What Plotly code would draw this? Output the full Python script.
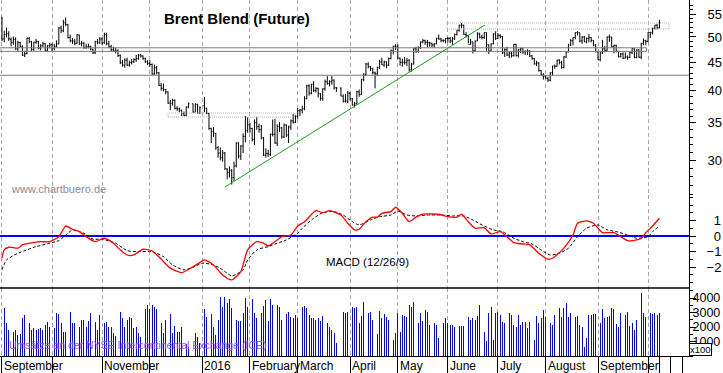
import pandas as pd
import plotly.graph_objects as go

# ---------------- DATA (Brent Blend front month, daily) ----------------
# one row per month: Sep15 .. Oct16
open_ = [
    54.0, 49.6, 50.5, 50.6, 49.5, 48.9, 49.5, 47.6, 48.9, 48.1, 46.4, 46.7, 49.7, 49.0, 47.5, 48.9, 49.1, 47.7, 48.2, 48.6, 47.3, 48.2,
    48.4, 47.7, 48.1, 48.6, 51.9, 51.3, 53.0, 52.6, 49.9, 49.2, 49.1, 48.7, 50.4, 48.6, 48.7, 47.8, 48.0, 48.1, 47.5, 46.8, 49.0, 48.8,
    49.6, 48.8, 50.5, 48.6, 48.0, 47.4, 47.2, 47.2, 46.3, 44.9, 44.5, 45.4, 44.5, 45.0, 45.1, 45.5, 45.7, 46.4, 46.2, 45.7, 45.1,
    44.8, 44.6, 42.9, 44.0, 43.1, 40.9, 40.4, 40.2, 39.8, 38.0, 38.0, 38.4, 37.2, 37.1, 36.9, 36.4, 36.1, 37.4, 37.9, 36.6, 37.8, 36.5,
    37.6, 37.2, 36.4, 34.2, 33.8, 33.5, 31.6, 30.9, 30.3, 30.9, 28.9, 28.5, 28.7, 27.9, 29.3, 32.2, 30.5, 31.8, 33.1, 33.9,
    34.7, 34.2, 32.7, 35.0, 34.5, 34.0, 32.9, 30.6, 30.8, 30.7, 33.4, 33.4, 32.2, 34.5, 34.3, 33.0, 34.7, 33.3, 34.4, 35.3, 35.1,
    36.0, 36.8, 36.9, 37.1, 38.7, 40.8, 39.6, 41.1, 40.0, 40.4, 39.5, 38.7, 40.3, 41.5, 41.2, 41.5, 41.8, 40.5, 40.4, 39.1, 38.3, 38.3,
    39.6, 38.7, 37.7, 37.9, 39.8, 39.4, 41.9, 42.8, 44.7, 44.2, 43.8, 43.1, 42.9, 44.0, 45.1, 44.5, 45.1, 44.5, 45.7, 47.2, 48.1,
    48.1, 45.8, 45.0, 45.0, 45.0, 45.4, 43.6, 44.7, 47.6, 47.1, 47.8, 49.0, 49.3, 48.9, 48.8, 48.7, 48.4, 48.6, 49.7, 49.6, 49.3, 49.3,
    49.7, 49.7, 49.2, 49.6, 50.6, 51.4, 52.5, 52.5, 50.5, 50.3, 48.5, 49.0, 47.2, 49.2, 50.6, 50.0, 49.9, 50.9, 48.4, 47.2, 48.6, 50.6,
    49.7, 50.3, 50.1, 46.8, 47.4, 46.4, 46.8, 46.3, 48.5, 46.3, 47.4, 47.6, 47.0, 47.1, 47.2, 46.2, 45.7, 44.7, 44.9, 43.5, 42.7,
    42.5, 42.1, 41.8, 43.1, 44.3, 44.3, 45.4, 45.0, 44.1, 46.0, 47.0, 48.4, 49.2, 49.9, 50.9, 50.9, 49.2, 50.0, 49.0, 49.7, 49.9, 49.3, 48.4,
    47.0, 45.5, 46.8, 47.6, 47.3, 50.0, 50.0, 48.0, 48.3, 47.1, 46.1, 46.6, 45.8, 46.0, 45.9, 46.8, 47.6, 45.9, 47.4, 46.0, 48.7, 49.2,
    49.1, 50.9, 50.9, 51.9, 52.5, 51.9,
]
high = [
    54.4, 51.3, 52.0, 51.2, 49.9, 50.1, 49.9, 49.2, 49.0, 48.3, 47.2, 49.8, 50.0, 49.2, 49.0, 49.6, 49.2, 48.5, 49.0, 48.7, 48.3, 48.8,
    48.7, 48.6, 49.3, 52.1, 52.4, 53.7, 54.2, 52.8, 50.5, 49.8, 49.6, 50.6, 50.5, 49.2, 49.0, 48.6, 48.6, 48.2, 47.6, 49.2, 49.6, 50.0,
    49.9, 50.9, 50.9, 49.2, 48.4, 48.0, 47.8, 47.5, 46.5, 45.5, 45.8, 45.9, 45.3, 45.6, 45.8, 46.4, 46.6, 46.6, 46.3, 45.9, 45.4,
    45.4, 44.8, 44.6, 44.3, 43.2, 41.3, 41.2, 40.3, 39.9, 38.5, 38.7, 38.6, 37.5, 37.3, 37.0, 36.7, 37.5, 38.1, 37.9, 38.0, 37.9, 37.5,
    38.99, 37.3, 36.5, 34.3, 34.4, 33.6, 31.8, 31.6, 31.3, 31.0, 29.0, 29.2, 28.9, 29.8, 32.3, 32.3, 31.9, 33.5, 36.0, 35.8,
    35.0, 34.3, 35.5, 35.9, 34.9, 34.7, 33.0, 31.5, 31.3, 33.5, 35.5, 35.6, 34.8, 35.1, 34.4, 34.9, 34.8, 34.6, 35.5, 36.3, 36.2,
    37.2, 37.1, 37.6, 39.1, 41.0, 41.1, 41.2, 41.6, 40.6, 40.5, 39.6, 40.4, 41.9, 42.5, 41.8, 42.5, 41.9, 40.6, 40.6, 39.4, 39.5, 40.0,
    39.8, 38.8, 38.2, 40.0, 40.2, 42.0, 43.0, 44.9, 45.0, 44.3, 44.0, 43.3, 44.2, 45.5, 45.9, 45.3, 45.2, 45.9, 47.5, 48.2, 48.5,
    48.5, 45.9, 45.7, 46.0, 45.8, 45.6, 44.9, 47.8, 48.0, 48.1, 49.1, 49.6, 49.4, 49.4, 49.0, 48.8, 48.7, 49.8, 50.5, 49.8, 49.5, 49.8,
    50.0, 50.0, 50.0, 50.7, 51.5, 52.6, 53.0, 52.6, 51.0, 50.4, 49.6, 49.0, 49.3, 51.0, 50.9, 50.5, 51.0, 51.0, 48.5, 48.7, 50.8, 51.2,
    50.8, 50.6, 50.2, 47.7, 48.0, 47.0, 47.1, 48.6, 48.6, 47.6, 47.8, 47.7, 47.3, 47.5, 47.3, 46.4, 45.8, 45.3, 45.0, 43.6, 43.0,
    42.7, 42.4, 43.2, 44.4, 44.6, 45.5, 45.6, 45.3, 46.2, 47.1, 48.6, 49.6, 49.9, 51.0, 51.2, 50.9, 50.2, 50.2, 49.9, 50.6, 50.0, 49.3, 48.5,
    47.1, 47.0, 49.4, 48.2, 50.1, 50.5, 50.0, 48.4, 48.4, 47.2, 46.8, 46.9, 46.9, 46.3, 47.0, 47.7, 47.7, 47.5, 47.5, 48.8, 49.7, 49.4,
    51.0, 51.1, 51.9, 52.6, 52.8, 53.7,
]
low = [
    49.1, 48.9, 49.9, 49.2, 48.1, 48.4, 47.4, 47.1, 47.8, 46.2, 46.0, 46.5, 48.7, 47.2, 47.2, 48.6, 47.5, 47.3, 48.0, 47.1, 47.0, 47.7,
    47.1, 47.3, 47.9, 48.5, 50.8, 51.0, 52.3, 49.7, 48.9, 48.6, 48.3, 48.6, 48.4, 48.1, 47.6, 47.6, 47.7, 47.3, 46.6, 46.6, 48.5, 48.6,
    48.4, 48.6, 48.3, 47.8, 47.0, 47.0, 46.7, 46.0, 44.7, 44.2, 44.0, 44.3, 44.2, 44.6, 44.9, 45.1, 45.5, 45.9, 45.5, 44.9, 44.5,
    44.2, 42.7, 42.7, 42.8, 40.8, 40.0, 39.9, 39.4, 37.9, 36.9, 37.6, 37.0, 36.8, 36.6, 36.0, 35.98, 36.0, 37.2, 36.5, 36.6, 36.4, 36.3,
    36.6, 36.3, 34.0, 32.2, 33.0, 31.3, 30.3, 29.96, 29.8, 28.8, 27.7, 27.9, 27.1, 27.5, 29.1, 30.2, 30.0, 30.9, 32.3, 33.6,
    33.6, 32.4, 31.9, 34.0, 33.6, 32.7, 30.5, 30.3, 30.4, 30.5, 33.1, 32.1, 31.8, 33.7, 32.8, 32.9, 33.0, 32.2, 34.0, 34.9, 35.0,
    35.6, 36.0, 36.4, 36.9, 38.6, 39.2, 39.4, 39.8, 39.7, 38.9, 38.4, 38.4, 40.0, 41.0, 40.7, 41.0, 40.2, 39.8, 39.1, 38.1, 38.1, 38.0,
    38.4, 37.6, 37.3, 37.8, 39.0, 39.3, 41.6, 42.5, 43.9, 43.4, 42.8, 40.4, 42.5, 43.8, 44.5, 44.2, 43.9, 44.3, 45.6, 46.5, 47.4,
    45.6, 44.4, 44.2, 44.6, 44.3, 43.3, 43.3, 44.6, 46.8, 46.8, 47.6, 48.7, 48.4, 47.9, 48.0, 47.9, 47.8, 48.5, 49.4, 48.9, 48.9, 48.7,
    48.9, 48.7, 48.4, 49.4, 50.3, 51.1, 51.8, 50.4, 49.9, 48.7, 48.4, 46.7, 47.0, 49.1, 49.7, 49.5, 49.6, 47.2, 46.6, 47.1, 48.5, 49.4,
    49.6, 49.7, 46.6, 46.0, 46.2, 45.8, 45.9, 46.1, 46.1, 45.9, 46.8, 46.6, 46.4, 46.4, 46.0, 45.5, 44.6, 44.3, 43.3, 42.6, 41.9,
    42.0, 41.5, 41.6, 42.6, 43.8, 44.2, 44.6, 43.8, 43.9, 45.9, 46.9, 48.2, 48.3, 49.5, 50.3, 48.9, 48.6, 48.9, 48.7, 48.9, 48.9, 48.1, 46.9,
    45.4, 45.2, 46.6, 46.9, 47.2, 49.0, 47.9, 46.7, 46.9, 45.9, 45.9, 45.6, 45.7, 45.5, 45.8, 46.6, 45.8, 45.8, 45.8, 45.6, 48.3, 48.3,
    48.9, 49.8, 50.5, 51.6, 51.6, 51.8,
]
close = [
    49.56, 50.50, 50.68, 49.61, 48.90, 49.52, 47.58, 48.89, 48.14, 46.37, 46.63, 49.75, 49.08, 47.47, 48.92, 49.08, 47.75, 48.17, 48.60, 47.34, 48.23, 48.37,
    47.69, 48.13, 48.54, 51.92, 51.33, 53.05, 52.65, 49.86, 49.24, 49.15, 48.71, 50.46, 48.61, 48.71, 47.85, 47.99, 48.08, 47.54, 46.81, 49.05, 48.80, 49.56,
    48.79, 50.54, 48.58, 47.98, 47.42, 47.19, 47.19, 46.30, 44.90, 44.50, 45.40, 44.50, 45.00, 45.10, 45.50, 45.70, 46.40, 46.20, 45.70, 45.10, 44.80,
    44.60, 42.90, 44.00, 43.10, 40.90, 40.40, 40.20, 39.80, 38.00, 37.92, 38.45, 37.19, 37.06, 36.88, 36.35, 36.11, 37.36, 37.89, 36.62, 37.79, 36.46, 37.28,
    37.22, 36.42, 34.23, 33.75, 33.55, 31.55, 30.86, 30.31, 30.88, 28.94, 28.55, 28.76, 27.88, 29.25, 32.18, 30.50, 31.80, 33.10, 33.89, 34.74,
    34.24, 32.72, 35.04, 34.46, 34.06, 32.88, 30.62, 30.84, 30.76, 33.36, 33.39, 32.18, 34.50, 34.28, 33.01, 34.69, 33.27, 34.41, 35.29, 35.10, 35.97,
    36.81, 36.93, 37.07, 38.72, 40.84, 39.65, 41.07, 40.05, 40.39, 39.53, 38.74, 40.33, 41.54, 41.20, 41.54, 41.79, 40.47, 40.44, 39.14, 38.28, 38.32, 39.60,
    38.67, 37.69, 37.87, 39.84, 39.43, 41.94, 42.83, 44.69, 44.18, 43.84, 43.10, 42.91, 44.03, 45.08, 44.53, 45.11, 44.48, 45.74, 47.18, 48.14, 48.13,
    45.83, 44.97, 45.01, 45.01, 45.37, 43.63, 44.66, 47.59, 47.08, 47.83, 48.97, 49.28, 48.93, 48.81, 48.72, 48.35, 48.61, 49.74, 49.59, 49.32, 49.28, 49.69,
    49.72, 49.17, 49.64, 50.55, 51.44, 52.51, 52.51, 50.54, 50.35, 48.49, 48.97, 47.19, 49.17, 50.65, 49.96, 49.88, 50.91, 48.41, 47.16, 48.58, 50.61, 49.68,
    50.35, 50.10, 46.80, 47.43, 46.40, 46.76, 46.25, 48.47, 46.26, 47.37, 47.61, 46.96, 47.08, 47.17, 46.20, 45.69, 44.72, 44.87, 43.47, 42.70, 42.46,
    42.14, 41.80, 43.10, 44.29, 44.27, 45.39, 44.98, 44.05, 46.04, 46.97, 48.35, 49.23, 49.85, 50.89, 50.88, 49.16, 49.96, 49.05, 49.67, 49.92, 49.26, 48.37, 47.04,
    45.45, 46.83, 47.63, 47.26, 49.98, 49.99, 48.01, 48.32, 47.10, 46.10, 46.59, 45.77, 46.05, 45.88, 46.83, 47.65, 45.89, 47.35, 45.97, 48.69, 49.24, 49.06,
    50.89, 50.87, 51.86, 52.51, 51.93, 53.14,
]
# volume in units of 100 contracts
volume = [
    3750, 3290, 2250, 1790, 2410, 1680, 1790, 1450, 1500, 2600, 2830, 2140, 2250, 1790, 1910, 1790, 1840, 1910, 1790, 2140, 2370, 2020,
    2020, 1900, 2940, 2900, 2250, 1680, 1680, 1200, 3060, 2250, 2250, 2600, 2020, 2480, 2480, 2020, 2440, 2990, 2140, 2370, 1790, 2830,
    3060, 2250, 2370, 2020, 2020, 1560, 1400, 2990, 3060, 2600, 2020, 2480, 2710, 2600, 1910, 2020, 1560, 1300, 3060, 3220, 3520,
    3220, 3520, 3400, 3220, 2710, 2250, 1560, 2500, 2300, 2900, 1560, 2070, 1680, 1680, 2020, 1200, 800, 600, 1560, 1560, 1330, 900,
    3220, 2710, 2940, 2900, 2020, 1450, 2500, 4090, 3400, 4050, 3630, 3910, 3290, 4090, 2480, 2440, 2440, 3000, 3980, 3400,
    3860, 3910, 2940, 2640, 3290, 2990, 3450, 3860, 2410, 3910, 3520, 2830, 3520, 3400, 2480, 2830, 2900, 3060, 2710, 2650, 2800,
    2640, 2940, 3400, 3470, 3290, 2830, 2600, 2600, 2480, 2640, 2410, 2760, 2140, 2250, 2020, 1800, 1560, 920, 2990, 3060, 2940, 3060,
    2940, 3400, 3290, 3400, 2250, 2760, 3750, 3520, 2990, 3060, 2480, 1980, 1520, 3100, 2600, 2900, 2700, 2500, 2400, 1100, 1600,
    2940, 1680, 2830, 2760, 2710, 3520, 3360, 3750, 3520, 2300, 2940, 2440, 3170, 3030, 2140, 2370, 2300, 2140, 1220, 180, 2250, 2600,
    2250, 2140, 2140, 2020, 2480, 2070, 2070, 2070, 2830, 2710, 2480, 2600, 2480, 2760, 3520, 2370, 1680, 1060, 2940, 3360, 1100, 2940,
    3060, 2830, 2370, 2300, 3170, 2990, 2830, 2140, 2020, 2830, 2140, 2370, 2370, 1910, 2370, 1910, 1100, 2760, 2300, 2640, 3170,
    2710, 2600, 2250, 2140, 2830, 2710, 3290, 2710, 3290, 3630, 2710, 2990, 2710, 2710, 2760, 2140, 1980, 640, 1220, 2830, 2830, 2900, 2900,
    2070, 2300, 3220, 2600, 2670, 2760, 3290, 3220, 2180, 2020, 2940, 2410, 2830, 3060, 2070, 2250, 1790, 2500, 1790, 4320, 2940, 2710,
    2600, 2940, 2900, 2990, 2800, 2990,
]

# MACD (12/26/9): trading-day number -> value
macd_day = [0, 1, 3, 7, 9, 14, 17, 21, 25, 28, 31, 34, 38, 41, 45, 49, 52, 55, 58, 62, 66, 69, 74, 79, 83, 87, 89,
            93, 97, 101, 105, 108, 112, 115, 117, 121, 123, 127, 130, 133, 138, 141, 144, 149, 152, 155, 157, 160,
            163, 165, 167, 171, 173, 176, 179, 182, 185, 192, 196, 200, 202, 205, 208, 212, 215, 219, 222, 225, 229,
            232, 236, 240, 242, 245, 247, 251, 253, 257, 260, 262, 264, 269, 272, 275, 279, 281, 283, 286, 289]
macd_val = [-1.42, -0.88, -0.71, -0.77, -0.56, -0.41, -0.35, -0.35, -0.03, 0.66, 0.45, 0.30, -0.13, -0.35, -0.13,
            -0.45, -0.88, -1.21, -1.21, -0.84, -0.95, -1.32, -2.06, -2.35, -2.06, -1.70, -1.53, -1.85, -2.50, -2.82,
            -2.28, -0.88, -0.35, -0.45, -0.63, -0.24, -0.03, 0.08, 0.66, 0.94, 1.65, 1.52, 1.65, 1.37, 0.84, 0.41,
            0.45, 0.94, 1.23, 1.23, 1.48, 1.59, 1.87, 1.48, 0.94, 1.23, 1.42, 1.42, 1.26, 1.23, 1.42, 0.94, 0.52,
            0.55, 0.15, 0.30, -0.03, -0.41, -0.50, -0.56, -1.10, -1.48, -1.42, -1.06, -0.77, 0.08, 0.84, 0.99, 0.84,
            0.52, 0.23, 0.23, -0.03, -0.28, -0.24, -0.13, 0.23, 0.66, 1.16]
signal_day = [0, 2, 7, 11, 15, 21, 25, 29, 31, 36, 40, 44, 50, 55, 61, 66, 71, 75, 80, 84, 88, 93, 97, 101, 106,
              108, 112, 117, 121, 125, 130, 132, 137, 141, 146, 150, 154, 157, 162, 166, 171, 174, 178, 182, 187,
              193, 198, 203, 207, 211, 216, 220, 225, 229, 233, 237, 241, 245, 249, 253, 257, 262, 266, 270, 275,
              279, 284, 286, 289]
signal_val = [-2.17, -1.53, -1.10, -0.88, -0.67, -0.45, -0.28, 0.19, 0.41, 0.19, -0.19, -0.19, -0.45, -0.93, -0.99,
              -0.99, -1.32, -1.85, -2.17, -2.00, -1.74, -1.85, -2.17, -2.56, -2.17, -1.53, -0.88, -0.67, -0.45, -0.24,
              0.19, 0.52, 1.16, 1.52, 1.59, 1.37, 0.94, 0.73, 1.05, 1.26, 1.37, 1.62, 1.37, 1.31, 1.37, 1.37, 1.31,
              1.31, 1.05, 0.73, 0.41, 0.30, -0.13, -0.35, -0.50, -0.88, -1.21, -1.10, -0.77, -0.03, 0.52, 0.73, 0.41,
              0.30, 0.08, -0.13, -0.03, 0.30, 0.66]

# drawn study lines (trading-day number, price)
trend_day = [98.0, 212.3]
trend_price = [26.82, 52.55]
support_box_day = [-1.0, 283.4]
support_box_price = [47.1, 47.8]
support_level = 42.65
dec_box_day = [73.0, 128.8]
dec_box_price = [35.87, 36.47]
top_box_day = [195.6, 293.2]
top_box_price = [51.68, 52.98]

month_labels = ["September", "", "November", "", "2016", "February", "March", "April",
                "May", "June", "July", "August", "September", ""]
price_ticks = [30, 35, 40, 45, 50, 55]
macd_ticks = [-2, -1, 0, 1]
macd_ticktext = ["\u22122", "\u22121", "\u20070", "\u20071"]
vol_ticks = [1000, 2000, 3000, 4000]

# ---------------- positions on a weekday axis ----------------
weekdays = pd.bdate_range("2015-09-01", "2016-10-31")
pos = {d.strftime("%Y-%m-%d"): i for i, d in enumerate(weekdays)}
holidays = {"2015-12-25", "2016-01-01", "2016-03-25"}
trade_dates = [d for d in pd.bdate_range("2015-09-01", "2016-10-10").strftime("%Y-%m-%d")
               if d not in holidays]
n = min(len(trade_dates), len(open_), len(high), len(low), len(close), len(volume))
xd = [pos[d] for d in trade_dates[:n]]

month_starts = []
for p in pd.period_range("2015-09", "2016-10", freq="M"):
    first = pd.bdate_range(p.start_time, periods=1)[0].strftime("%Y-%m-%d")
    month_starts.append(pos[first])
week_ticks = [pos[d.strftime("%Y-%m-%d")] for d in pd.date_range("2016-10-10", "2016-10-24", freq="W-MON")]

FONT = "Arial, Liberation Sans, sans-serif"

fig = go.Figure()

# price bars
fig.add_trace(go.Ohlc(
    x=xd, open=open_[:n], high=high[:n], low=low[:n], close=close[:n],
    increasing=dict(line=dict(color="black", width=1)),
    decreasing=dict(line=dict(color="black", width=1)),
    tickwidth=0.42, xaxis="x", yaxis="y", showlegend=False, hoverinfo="skip"))

def rect(xs, ys):
    return [xs[0], xs[1], xs[1], xs[0], xs[0]], [ys[0], ys[0], ys[1], ys[1], ys[0]]

bx, by = rect(support_box_day, support_box_price)
fig.add_trace(go.Scatter(x=bx, y=by, mode="lines", line=dict(color="#7a7a7a", width=1),
                         yaxis="y", showlegend=False, hoverinfo="skip"))
fig.add_trace(go.Scatter(x=[-1, 310], y=[support_level, support_level], mode="lines",
                         line=dict(color="#7a7a7a", width=1), yaxis="y", showlegend=False, hoverinfo="skip"))
bx, by = rect(dec_box_day, dec_box_price)
fig.add_trace(go.Scatter(x=bx, y=by, mode="lines", line=dict(color="#b4b4b4", width=1, dash="1px,1px"),
                         yaxis="y", showlegend=False, hoverinfo="skip"))
bx, by = rect(top_box_day, top_box_price)
fig.add_trace(go.Scatter(x=bx, y=by, mode="lines", line=dict(color="#b4b4b4", width=1, dash="1px,1px"),
                         yaxis="y", showlegend=False, hoverinfo="skip"))
fig.add_trace(go.Scatter(x=trend_day, y=trend_price, mode="lines", line=dict(color="#1aa01a", width=1),
                         yaxis="y", showlegend=False, hoverinfo="skip"))

# MACD
fig.add_trace(go.Scatter(x=signal_day, y=signal_val, mode="lines",
                         line=dict(color="black", width=1, dash="3px,2px", shape="spline", smoothing=0.6),
                         yaxis="y2", showlegend=False, hoverinfo="skip"))
fig.add_trace(go.Scatter(x=macd_day, y=macd_val, mode="lines",
                         line=dict(color="#ff0000", width=1.3, shape="spline", smoothing=0.6),
                         yaxis="y2", showlegend=False, hoverinfo="skip"))

# volume
fig.add_trace(go.Bar(x=xd, y=volume[:n], width=0.38, marker=dict(color="#0000ff", line=dict(width=0)),
                     yaxis="y3", showlegend=False, hoverinfo="skip"))

tickfont = dict(family=FONT, size=13, color="black")
common_y = dict(side="right", anchor="x", showline=True, linecolor="black", linewidth=1,
                ticks="outside", ticklen=6, tickcolor="black", showgrid=False, zeroline=False,
                tickfont=tickfont, fixedrange=True, automargin=False)

fig.update_layout(
    width=723, height=373,
    margin=dict(l=0, r=34, t=0, b=17, autoexpand=False),
    paper_bgcolor="white", plot_bgcolor="white",
    bargap=0,
    xaxis=dict(range=[-0.86, 302], anchor="y3", showline=True, linecolor="black", linewidth=1,
               tickmode="array", tickvals=month_starts, showticklabels=False,
               ticks="outside", ticklen=16, tickcolor="black", automargin=False,
               showgrid=True, gridcolor="#a8a8a8", griddash="4px,3px", gridwidth=1,
               zeroline=False, rangeslider=dict(visible=False), fixedrange=True,
               minor=dict(tickmode="array", tickvals=week_ticks, ticks="outside", ticklen=16,
                          tickcolor="black", showgrid=False)),
    yaxis=dict(domain=[0.4522, 1], type="log", range=[1.4141, 1.7656],
               tickmode="array", tickvals=price_ticks, ticklabelstandoff=9,
               minor=dict(tickmode="array", tickvals=[v for v in range(26, 58) if v % 5],
                          ticks="outside", ticklen=3, tickcolor="black"),
               **common_y),
    yaxis2=dict(domain=[0.191, 0.4522], range=[-3.34, 2.66],
                tickmode="array", tickvals=macd_ticks, ticktext=macd_ticktext, ticklabelstandoff=8,
                minor=dict(dtick=0.5, tick0=0, ticks="outside", ticklen=3, tickcolor="black"),
                **{**common_y, "zeroline": True}, zerolinecolor="#0000ff", zerolinewidth=1.5),
    yaxis3=dict(domain=[0, 0.191], range=[0, 4690],
                tickmode="array", tickvals=vol_ticks, ticklabelstandoff=-6,
                minor=dict(dtick=500, tick0=0, ticks="outside", ticklen=3, tickcolor="black"),
                **{**common_y, "tickfont": dict(family=FONT, size=12.5, color="black")}),
)

# separator between MACD and volume panel
fig.add_shape(type="line", xref="paper", yref="paper", x0=0, x1=1, y0=0.191, y1=0.191,
              line=dict(color="black", width=1.5))

# texts
fig.add_annotation(text="<b>Brent Blend (Future)</b>", xref="paper", yref="paper",
                   x=162 / 689, y=1 - 18 / 356, xanchor="left", yanchor="middle", showarrow=False,
                   font=dict(family=FONT, size=15, color="black"))
fig.add_annotation(text="www.chartbuero.de", xref="paper", yref="paper",
                   x=9 / 689, y=1 - 189 / 356, xanchor="left", yanchor="middle", showarrow=False,
                   font=dict(family=FONT, size=11, color="#8a8a9a"))
fig.add_annotation(text="MACD (12/26/9)", xref="paper", yref="paper",
                   x=324 / 689, y=1 - 262 / 356, xanchor="left", yanchor="middle", showarrow=False,
                   font=dict(family=FONT, size=11.5, color="black"))
fig.add_annotation(text="Umsätze an der NYSE Intercontinental Exchange (ICE)", xref="paper", yref="paper",
                   x=7 / 689, y=1 - 345 / 356, xanchor="left", yanchor="middle", showarrow=False,
                   font=dict(family=FONT, size=10.5, color="#9a50ff"))
fig.add_annotation(text="x100", xref="paper", yref="paper", x=1.0, y=(356 - 349.5) / 356,
                   xanchor="left", yanchor="middle", showarrow=False, borderpad=0,
                   bordercolor="black", borderwidth=1, bgcolor="white",
                   font=dict(family=FONT, size=9.5, color="black"))

for xm, lab in zip(month_starts, month_labels):
    if lab:
        fig.add_annotation(text=lab, xref="x", yref="paper", x=xm, y=-9.5 / 356,
                           xanchor="left", yanchor="middle", showarrow=False, xshift=0,
                           font=dict(family=FONT, size=12, color="black"))

fig.write_html("out.html", config={"displayModeBar": False, "staticPlot": True},
               post_script="document.body.style.margin='0';document.body.style.padding='0';"
                           "document.body.style.overflow='hidden';")
